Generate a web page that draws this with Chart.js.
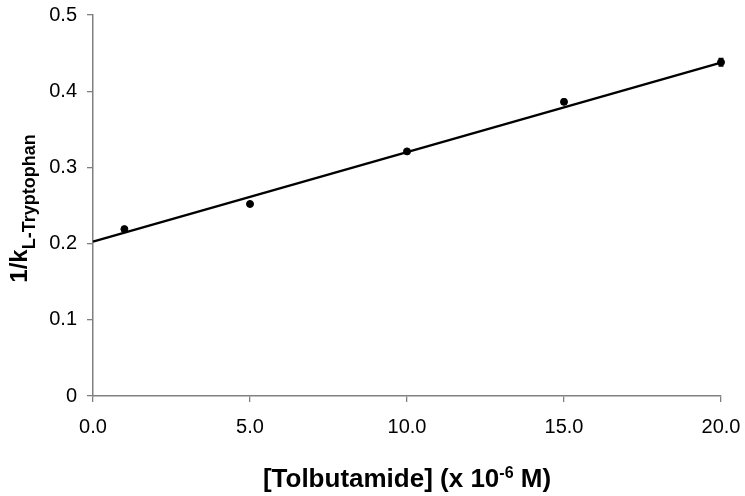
<!DOCTYPE html>
<html><head><meta charset="utf-8">
<script src="https://cdn.jsdelivr.net/npm/chart.js@4/dist/chart.umd.min.js"></script>
<style>html,body{margin:0;padding:0;background:#fff}#wrap{width:745px;height:496px}</style>
</head><body><div id="wrap"><canvas id="c" width="745" height="496"></canvas></div>
<script>
const concentrations = [1.0, 5.0, 10.0, 15.0, 20.0];
const inverseK = [0.219, 0.252, 0.321, 0.386, 0.438];
const errors = [0.002, 0.002, 0.002, 0.003, 0.005];
const trendX = [0, 20.0];
const trendY = [0.2025, 0.4375];
const xTicks = [0, 5, 10, 15, 20];
const yTicks = [0, 0.1, 0.2, 0.3, 0.4, 0.5];

const FONT = '"Liberation Sans", Arial, sans-serif';

const errorBars = {
  id: 'errorBars',
  afterDatasetsDraw(chart) {
    const ctx = chart.ctx, xs = chart.scales.x, ys = chart.scales.y;
    ctx.save();
    ctx.strokeStyle = '#000'; ctx.lineWidth = 1.5;
    concentrations.forEach((c, i) => {
      const px = xs.getPixelForValue(c);
      const top = ys.getPixelForValue(inverseK[i] + errors[i]);
      const bot = ys.getPixelForValue(inverseK[i] - errors[i]);
      ctx.beginPath();
      ctx.moveTo(px, top); ctx.lineTo(px, bot);
      ctx.moveTo(px - 2.5, top); ctx.lineTo(px + 2.5, top);
      ctx.moveTo(px - 2.5, bot); ctx.lineTo(px + 2.5, bot);
      ctx.stroke();
    });
    ctx.restore();
  }
};

const titles = {
  id: 'titles',
  afterDraw(chart) {
    const ctx = chart.ctx, a = chart.chartArea;
    ctx.save();
    ctx.fillStyle = '#000';
    ctx.textBaseline = 'alphabetic';
    // X title
    const big = 'bold 26px ' + FONT, sup = 'bold 16px ' + FONT;
    const p1 = '[Tolbutamide] (x 10', p2 = '-6', p3 = ' M)';
    ctx.font = big; const w1 = ctx.measureText(p1).width, w3 = ctx.measureText(p3).width;
    ctx.font = sup; const w2 = ctx.measureText(p2).width;
    let x = (a.left + a.right) / 2 - (w1 + w2 + w3) / 2;
    const by = 487;
    ctx.font = big; ctx.fillText(p1, x, by); x += w1;
    ctx.font = sup; ctx.fillText(p2, x, by - 9); x += w2;
    ctx.font = big; ctx.fillText(p3, x, by);
    // Y title
    ctx.translate(27, (a.top + a.bottom) / 2 + 3);
    ctx.rotate(-Math.PI / 2);
    const q1 = '1/k', q2 = 'L-Tryptophan';
    const bigY = 'bold 24px ' + FONT, sub = 'bold 18px ' + FONT;
    ctx.font = bigY; const v1 = ctx.measureText(q1).width;
    ctx.font = sub; const v2 = ctx.measureText(q2).width;
    let y = -(v1 + v2) / 2;
    ctx.font = bigY; ctx.fillText(q1, y, 0); y += v1;
    ctx.font = sub; ctx.fillText(q2, y, 8);
    ctx.restore();
  }
};

new Chart(document.getElementById('c'), {
  type: 'scatter',
  data: {
    datasets: [
      {
        type: 'line',
        data: trendX.map((x, i) => ({x, y: trendY[i]})),
        borderColor: '#000', borderWidth: 2.3, pointRadius: 0, fill: false, order: 2, clip: false
      },
      {
        data: concentrations.map((x, i) => ({x, y: inverseK[i]})),
        backgroundColor: '#000', borderColor: '#000', pointRadius: 3.5, pointHoverRadius: 3.5, order: 1, clip: false
      }
    ]
  },
  options: {
    responsive: false, animation: false,
    layout: { padding: { left: 0, right: 24, top: 15, bottom: 0 } },
    plugins: { legend: { display: false }, tooltip: { enabled: false } },
    scales: {
      x: {
        type: 'linear', min: 0, max: 20,
        afterFit(s) { s.height = 100; s.paddingLeft = 0; s.paddingRight = 0; },
        afterBuildTicks(s) { s.ticks = xTicks.map(v => ({value: v})); },
        grid: { drawOnChartArea: false, drawTicks: true, tickLength: 6, color: '#808080', lineWidth: 1.3 },
        border: { color: '#808080', width: 1.5 },
        ticks: { font: { family: FONT, size: 20 }, color: '#000', padding: 13, maxRotation: 0,
                 callback: v => v.toFixed(1) }
      },
      y: {
        type: 'linear', min: 0, max: 0.5,
        afterFit(s) { s.width = 93; s.paddingTop = 0; s.paddingBottom = 0; },
        afterBuildTicks(s) { s.ticks = yTicks.map(v => ({value: v})); },
        grid: { drawOnChartArea: false, drawTicks: true, tickLength: 6, color: '#808080', lineWidth: 1.3 },
        border: { color: '#808080', width: 1.5 },
        ticks: { font: { family: FONT, size: 20 }, color: '#000', padding: 10,
                 callback: v => v === 0 ? '0' : v.toFixed(1) }
      }
    }
  },
  plugins: [errorBars, titles]
});
</script></body></html>
